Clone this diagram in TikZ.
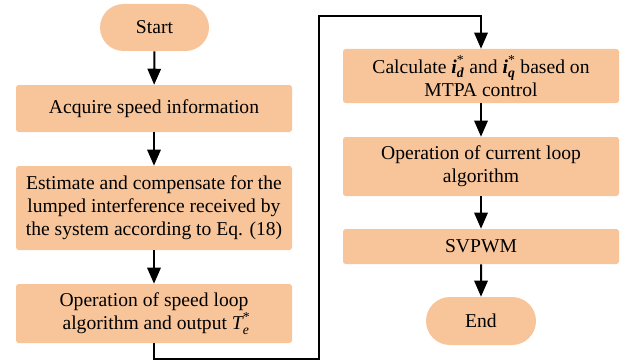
\documentclass[tikz,border=0pt]{standalone}
\usepackage{amsmath}
\usepackage{fontspec}
\setmainfont{LiberationSerif}[Extension=.ttf, UprightFont=*-Regular, BoldFont=*-Bold, ItalicFont=*-Italic, BoldItalicFont=*-BoldItalic]
\usetikzlibrary{arrows.meta,shapes.misc}
\definecolor{boxfill}{RGB}{248,197,154}
\tikzset{
  box/.style={draw=none, fill=boxfill, rounded corners=2pt, align=center,
    font=\fontsize{14.7}{17.4}\selectfont, inner sep=0pt},
  term/.style={draw=none, fill=boxfill, rounded rectangle, align=center,
    font=\fontsize{14.7}{17.4}\selectfont, inner sep=0pt},
  flow/.style={line width=1.5pt, -{Triangle[length=12pt,width=10pt]}},
}
\begin{document}
\begin{tikzpicture}[x=0.75pt,y=-0.75pt]
\useasboundingbox (0,0) rectangle (630,360);
\node[term, minimum width=109*0.75pt, minimum height=47*0.75pt] (start) at (154.5,27.5) {Start};
\node[box, minimum width=276*0.75pt, minimum height=47*0.75pt] (acq) at (154,108.5) {Acquire speed information};
\node[box, minimum width=276*0.75pt, minimum height=84*0.75pt] (est) at (154,208) {Estimate and compensate for the\\lumped interference received by\\the system according to Eq. (18)};
\node[box, minimum width=276*0.75pt, minimum height=59*0.75pt] (spd) at (154,313.5) {Operation of speed loop\\\ algorithm and output $\textit{T}^{\text{*}}_{\textit{e}}$};
\node[box, minimum width=276*0.75pt, minimum height=54*0.75pt] (calc) at (481,76) {Calculate $\textbf{\textit{i}}^{\text{*}}_{\textbf{\textit{d}}}$ and $\textbf{\textit{i}}^{\text{*}}_{\textbf{\textit{q}}}$ based on\\MTPA control};
\node[box, minimum width=276*0.75pt, minimum height=59*0.75pt] (cur) at (481,166.5) {Operation of current loop\\algorithm};
\node[box, minimum width=276*0.75pt, minimum height=35*0.75pt] (svp) at (481,246.5) {SVPWM};
\node[term, minimum width=110*0.75pt, minimum height=48*0.75pt] (end) at (481,321) {End};
\coordinate (b1) at (154,358.5);
\coordinate (b2) at (319,358.5);
\coordinate (t1) at (319,16);
\coordinate (t2) at (481,16);
\draw[flow] (start) -- (acq);
\draw[flow] (acq) -- (est);
\draw[flow] (est) -- (spd);
\draw[flow] (calc) -- (cur);
\draw[flow] (cur) -- (svp);
\draw[flow] (svp) -- (end);
\draw[flow] (spd.south) -- (b1) -- (b2) -- (t1) -- (t2) -- (calc.north);
\end{tikzpicture}
\end{document}
